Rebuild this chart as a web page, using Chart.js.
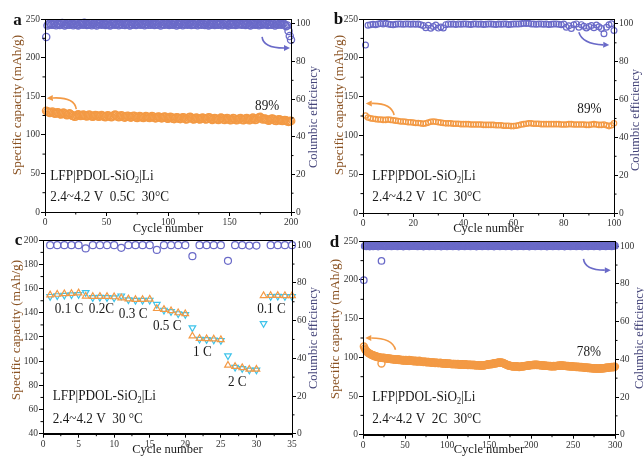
<!DOCTYPE html>
<html><head><meta charset="utf-8">
<script src="https://cdn.jsdelivr.net/npm/chart.js@4.4.1/dist/chart.umd.min.js"></script>
<style>
html,body{margin:0;padding:0;background:#fff;width:644px;height:457px;overflow:hidden;position:relative;}
canvas{position:absolute;}
</style></head><body>
<canvas id="ca" width="322" height="240" style="left:0;top:0"></canvas>
<canvas id="cb" width="322" height="240" style="left:322px;top:0"></canvas>
<canvas id="cc" width="322" height="229" style="left:0;top:228px"></canvas>
<canvas id="cd" width="322" height="229" style="left:322px;top:228px"></canvas>
<script>
// ---------- DATA ----------
const capA = [131,130,129.5,128.5,129,130,128.5,127.5,128,129,
128.5,127,126.5,127.5,128.5,127.5,126,125.5,126.5,127.5,
126.5,125,124.5,123.5,124,125.5,126.5,125.5,124.5,125,
126,125.5,124.5,124,125,126,125,124,123.5,124.5,
125.5,125,124,123.5,124.5,125.5,124.5,123.5,123,124,
125,124.5,123.5,123,124,125,126,125,123.5,123,
124,125,124.5,123,122.5,123.5,124.5,124,123,122.5,
123.5,124.5,124,122.5,122,123,124,123.5,122.5,122,
123,124,123.5,122.5,122,123,124,123.5,122,121.5,
122.5,123.5,123,122,121.5,122.5,123.5,123,121.5,121,
122,123,122.5,121,120.5,121.5,122.5,122,121,120.5,
121.5,122.5,122,120.5,120,121,122.5,123,122,120.5,
120,121,122,121.5,120.5,120,121,122,121.5,120.5,
120,121,122.5,122,120.5,119.5,120.5,121.5,121,120,
119.5,120.5,122,121.5,120,119.5,120.5,121.5,121,119.5,
119,120,121.5,121,119.5,119,120,121,121.5,120,
119,119.5,121,121.5,120.5,119,119.5,121,122,121,
119.5,120,121.5,122.5,123,121.5,120,120.5,121,120,
119,118.5,119.5,120.5,121,120,118.5,118,119,120,
119.5,118.5,118,118.5,119,118.5,117.5,117,117.5,118];
const effA = [93.0,99.2,99.8,100.3,99.5,100.1,99.6,100.4,99.3,99.9,
100.2,99.4,99.8,100.5,99.7,99.1,100.0,99.6,100.3,99.5,
99.9,100.2,99.3,99.8,100.4,99.6,99.2,100.1,99.7,100.3,
99.5,100.6,99.8,99.4,100.0,99.6,100.2,99.3,99.9,100.4,
99.7,99.2,100.1,99.8,100.3,99.5,99.9,100.2,99.4,99.8,
100.3,99.6,99.1,100.0,99.7,100.4,99.5,99.9,100.2,99.3,
99.8,100.1,99.6,100.3,99.4,99.9,100.2,99.7,99.2,100.0,
99.6,100.3,99.8,99.4,100.1,99.7,100.4,99.5,99.9,100.2,
99.3,99.8,100.1,99.6,100.3,99.5,99.9,100.2,99.4,99.7,
100.1,99.6,100.3,99.2,99.8,100.0,99.5,100.2,99.7,99.9,
99.4,100.2,99.8,99.5,100.3,99.7,99.1,100.0,99.6,100.4,
99.8,99.3,100.1,99.7,100.2,99.5,99.9,100.3,99.4,99.8,
100.0,99.6,100.4,99.3,99.9,100.1,99.5,100.2,99.8,99.4,
100.3,99.7,99.2,100.0,99.6,100.2,99.8,99.4,100.1,99.7,
99.5,100.3,99.9,99.3,100.0,99.7,100.4,99.6,99.2,99.9,
100.2,99.5,99.8,100.1,99.4,100.3,99.7,99.9,100.0,99.5,
99.8,100.2,99.4,99.9,100.3,99.6,99.2,100.1,99.7,100.0,
99.5,100.2,99.8,99.3,100.1,99.6,100.4,99.7,99.9,100.2,
99.4,99.8,100.0,99.5,100.3,99.7,99.1,100.2,99.6,99.8,
100.1,99.5,99.9,100.2,99.6,98.8,99.2,96.2,93.6,91.6];

const capB = [125.5,123,122,121.5,121,120.5,120.5,120,120,120.5,
120,119.5,119,118.5,118,118,117.5,117,117,116.5,
116,116,115.5,115,115.5,116.5,117.5,118,117.5,117,
116.5,116,115.5,115.5,115.5,115,115,115,114.5,114.5,
114.5,114.5,114,114,114,114,114,113.5,113.5,113.5,
113.5,113.5,113,113,113,112.5,112.5,112.5,112,112,
112.5,113,114,114.5,115,115.5,115.5,115,115,115,
114.5,114.5,114.5,114.5,114.5,114.5,114.5,114.5,114,114,
114,114.5,114.5,114,114,114,114,114,113.5,113.5,
114,114.5,114,113.5,113.5,114,113,112,113,115.5];
const effB = [88.8,99.3,99.6,99.8,99.6,99.9,100.2,100.0,100.3,99.9,
99.7,99.5,99.8,100.0,99.9,99.8,100.0,99.9,99.8,99.9,
99.8,99.9,99.6,99.2,98.0,99.3,97.7,98.6,99.4,97.8,
98.4,97.9,99.6,100.0,99.8,99.9,99.7,100.0,99.8,99.9,
100.0,99.8,99.7,99.9,100.0,99.8,99.9,99.7,99.8,100.0,
99.9,99.8,99.7,99.9,99.8,100.0,99.9,99.7,99.8,99.9,
100.0,99.9,100.1,100.4,100.2,100.3,100.0,99.9,99.8,99.9,
100.0,99.8,99.9,99.7,99.8,99.9,100.0,99.8,99.6,99.9,
98.2,99.0,97.6,99.5,100.0,98.3,99.6,98.8,97.9,98.6,
99.2,98.0,99.4,98.5,97.6,94.8,98.2,99.5,100.1,96.5];

const dischC = [154.8,155.3,155.8,156,156.5,153.8,153.5,153.6,153.5,153.2,
152.3,151.5,151,151,151.3,143.5,142.8,141.7,140,139.2,
120.8,118.8,118.5,118.3,117.8,96.6,95.6,94.6,93.3,93.3,
154.2,154.3,154.3,154.2,154.2];
const chargeC = [153.6,154.2,154.6,155,155.2,156.8,152.6,152.8,152.6,152.4,
154,150.8,150.3,150.3,150.5,147,142.2,141,139.3,138.6,
127.6,118.2,117.9,117.6,117.2,104.5,95,94,92.7,92.7,
131.2,153.6,153.7,153.6,153.6];
const effC = [100,100,100,100,100,98.3,100,100,100,100,
98.6,100,100,100,100,97.5,100,100,100,100,
94.2,100,100,100,100,91.7,100,100,99.8,99.8,
null,100,100,100,100];
const rateLabelsC = ['0.1 C','0.2C','0.3 C','0.5 C','1 C','2 C','0.1 C'];

const capD = [114,111.5,109.5,108,107,106,105.5,104.5,104,103.5,
103,102.5,102.5,101.5,101.5,101,100.5,100.5,100,100,
99.5,92,99.5,99,99.5,99,98.5,99,98.5,98.5,
98,98.5,98,97.5,98,97.5,97.5,97,97.5,97,
97,97.5,96.5,97,96.5,96.5,96,96.5,96,96,
96.5,96,95.5,96,96.5,96,95.5,96,95.5,95,
95.5,95,95.5,95,94.5,95,95.5,95,94.5,94.5,
94.5,94,94.5,94.5,94,93.5,94,94,93.5,93.5,
93.5,93,93.5,93.5,93,92.5,93,93,92.5,92.5,
92.5,93,92.5,92,92.5,92,92,92.5,92,91.5,
92,91.5,92,91.5,91.5,91,91.5,91.5,91,91.5,
91,91,91.5,91,90.5,91,91,90.5,91,90.5,
90.5,91,90.5,90.5,90,90.5,90.5,90,90.5,90,
90,90.5,90,89.5,90,90,89.5,90,89.5,89.5,
89.5,90,89.5,89.5,90,90,90.5,90.5,91,91,
91,91.5,91,91.5,92,92,92.5,92,92.5,93,
93,93.5,93,93.5,93,93,92.5,92,91.5,91,
90.5,90,89.5,89.5,89,89,88.5,88.5,88,88.5,
88,88,88.5,88,88,87.5,88,88,88,88.5,
88.5,88.5,89,89,89,89.5,89.5,89.5,90,90,
90,90,90.5,90,90.5,90.5,90,90.5,90,90,
90,89.5,90,89.5,89.5,89,89.5,89,89,89,
89,88.5,89,88.5,88.5,88.5,89,88.5,88.5,89,
89,89,89.5,89,89.5,89.5,89.5,89,89.5,89,
89,89,88.5,89,88.5,88.5,88.5,88,88.5,88,
88,88,88,87.5,88,87.5,87.5,87.5,87,87.5,
87,87,87,86.5,87,86.5,86.5,86.5,86,86.5,
86,86,86,85.5,86,85.5,85.5,85.5,85.5,85.5,
85.5,85.5,85.5,86,85.5,86,86,86,86.5,86.5,
86.5,86.5,87,87,87,87.5,87,87.5,87.5,88];
const effD = [82.0,100.1,100.4,99.9,100.5,100.0,100.3,99.8,100.4,100.1,
100.3,99.9,100.2,100.5,100.0,100.2,100.4,99.8,100.3,100.1,
100.4,92.2,100.0,100.3,100.1,100.4,99.9,100.5,100.2,100.0,
100.3,100.1,100.5,99.9,100.2,100.4,100.0,100.3,100.1,100.5,
99.9,100.2,100.4,100.0,100.3,100.1,100.5,99.8,100.2,100.4,
100.0,100.3,100.1,100.5,99.9,100.2,100.4,100.0,100.3,100.1,
100.5,100.0,100.2,100.4,99.9,100.3,100.1,100.5,100.0,100.2,
100.4,99.8,100.3,100.1,100.5,100.0,100.2,100.4,99.9,100.3,
100.1,100.5,100.0,100.2,100.4,99.9,100.3,100.1,100.5,100.0,
100.2,100.4,99.8,100.3,100.1,100.5,100.0,100.2,100.4,99.9,
100.3,100.1,100.5,100.0,100.2,100.4,99.9,100.3,100.1,100.5,
100.0,100.2,100.4,99.8,100.3,100.1,100.5,100.0,100.2,100.4,
99.9,100.3,100.1,100.5,100.0,100.2,100.4,99.9,100.3,100.1,
100.5,100.0,100.2,100.4,99.8,100.3,100.1,100.5,100.0,100.2,
100.4,99.9,100.3,100.1,100.5,100.0,100.2,100.4,99.9,100.3,
100.1,100.5,100.0,100.2,100.4,99.8,100.3,100.1,100.5,100.0,
100.2,100.4,99.9,100.3,100.1,100.5,100.0,100.2,100.4,99.9,
100.3,100.1,100.5,100.0,100.2,100.4,99.8,100.3,100.1,100.5,
100.0,100.2,100.4,99.9,100.3,100.1,100.5,100.0,100.2,100.4,
99.9,100.3,100.1,100.5,100.0,100.2,100.4,99.8,100.3,100.1,
100.5,100.0,100.2,100.4,99.9,100.3,100.1,100.5,100.0,100.2,
100.4,99.9,100.3,100.1,100.5,100.0,100.2,100.4,99.8,100.3,
100.1,100.5,100.0,100.2,100.4,99.9,100.3,100.1,100.5,100.0,
100.2,100.4,99.9,100.3,100.1,100.5,100.0,100.2,100.4,99.8,
100.3,100.1,100.5,100.0,100.2,100.4,99.9,100.3,100.1,100.5,
100.0,100.2,100.4,99.9,100.3,100.1,100.5,100.0,100.2,100.4,
99.8,100.3,100.1,100.5,100.0,100.2,100.4,99.9,100.3,100.1,
100.5,100.0,100.2,100.4,99.9,100.3,100.1,100.5,100.0,100.2,
100.4,99.8,100.3,100.1,100.5,100.0,100.2,100.4,99.9,100.3,
100.1,100.5,100.0,100.2,100.4,99.9,100.3,100.1,100.5,100.2];

// ---------- STYLE ----------
const ORANGE = '#F39A45', BLUE = '#6A6AC8', CYAN = '#3EC3EA';
const FONT = 'Liberation Serif';
const LEFT_TITLE = '#8A5222', RIGHT_TITLE = '#45457A';
const LEFT_TEXT = 'Specific capacity (mAh/g)', RIGHT_TEXT = 'Columbic efficiency';

function pts(arr){ return arr.map((v,i)=>({x:i+1,y:v})); }

const annoPlugin = {
  id:'anno',
  afterDatasetsDraw(chart, args, o){
    const ctx = chart.ctx, ca = chart.chartArea;
    ctx.save();
    ctx.strokeStyle = '#000'; ctx.lineWidth = 1;
    ctx.strokeRect(Math.round(ca.left)+0.5, Math.round(ca.top)+0.5, Math.round(ca.right)-Math.round(ca.left), Math.round(ca.bottom)-Math.round(ca.top));
    // minor ticks
    const minor = (scale, horiz, side) => {
      const t = scale.ticks;
      for(let i=0;i<t.length-1;i++){
        const v = (t[i].value + t[i+1].value)/2;
        const p = scale.getPixelForValue(v);
        ctx.beginPath();
        if(horiz){ ctx.moveTo(p, ca.bottom); ctx.lineTo(p, ca.bottom+2.5); }
        else if(side==='left'){ ctx.moveTo(ca.left, p); ctx.lineTo(ca.left-2.5, p); }
        else { ctx.moveTo(ca.right, p); ctx.lineTo(ca.right+2.5, p); }
        ctx.stroke();
      }
    };
    minor(chart.scales.x, true); minor(chart.scales.y, false, 'left'); minor(chart.scales.y1, false, 'right');
    // axis titles (both read bottom-to-top)
    const vt = (text, x, y, size, color) => {
      ctx.save(); ctx.translate(x, y); ctx.rotate(-Math.PI/2);
      ctx.font = size + 'px "' + FONT + '"'; ctx.fillStyle = color;
      ctx.textAlign = 'center'; ctx.textBaseline = 'middle';
      ctx.fillText(text, 0, 0); ctx.restore();
    };
    vt(LEFT_TEXT, o.lt[0], o.lt[1], 13.3, LEFT_TITLE);
    vt(RIGHT_TEXT, o.rt[0], o.rt[1], 12.5, RIGHT_TITLE);
    // arrows
    (o.arrows||[]).forEach(a=>{
      const ys = chart.scales[a.axis], xs = chart.scales.x;
      const P = a.pts.map(p=>({x:xs.getPixelForValue(p[0]), y:ys.getPixelForValue(p[1])}));
      ctx.strokeStyle = a.color; ctx.fillStyle = a.color; ctx.lineWidth = 1.6;
      const ang = Math.atan2(P[2].y-P[1].y, P[2].x-P[1].x);
      const hl = 6, hw = 3;
      const bx = P[2].x - hl*Math.cos(ang), by = P[2].y - hl*Math.sin(ang);
      ctx.beginPath(); ctx.moveTo(P[0].x,P[0].y); ctx.quadraticCurveTo(P[1].x,P[1].y,bx,by); ctx.stroke();
      ctx.beginPath(); ctx.moveTo(P[2].x,P[2].y);
      ctx.lineTo(bx - hw*Math.sin(ang), by + hw*Math.cos(ang));
      ctx.lineTo(bx + hw*Math.sin(ang), by - hw*Math.cos(ang));
      ctx.closePath(); ctx.fill();
    });
    // texts
    ctx.fillStyle = '#1a1a1a'; ctx.textBaseline = 'alphabetic'; ctx.textAlign = 'left';
    (o.texts||[]).forEach(t=>{
      const x = chart.scales.x.getPixelForValue(t.x), y = chart.scales.y.getPixelForValue(t.y);
      const size = t.size || 15, sx = t.sx || 0.88;
      ctx.save(); ctx.translate(x,y); ctx.scale(sx,1);
      let cx = 0;
      t.parts.forEach(p=>{
        const sub = typeof p === 'object';
        const s = sub ? p.sub : p;
        ctx.font = (sub ? size*0.62 : size) + 'px "' + FONT + '"';
        ctx.fillText(s, cx, sub ? size*0.2 : 0);
        cx += ctx.measureText(s).width;
      });
      ctx.restore();
    });
    // panel letter
    if(o.letter){
      ctx.font = 'bold 17px "' + FONT + '"'; ctx.textAlign='center'; ctx.textBaseline='middle';
      ctx.fillStyle = '#111';
      ctx.fillText(o.letter.t, o.letter.x, o.letter.y);
    }
    ctx.restore();
  }
};

function axis(pos, min, max, step, fitFn, title, tpad){
  return {
    type:'linear', position:pos, min:min, max:max,
    border:{display:true, color:'#000', width:1},
    grid:{display:true, drawOnChartArea:false, drawTicks:true, tickLength:4, color:'#000', lineWidth:1},
    ticks:{stepSize:step, includeBounds:false, color:'#333', font:{family:FONT, size:9.5}, padding:1, maxRotation:0, autoSkip:false},
    title:{display:!!title, text:title||'', color:'#1a1a1a', font:{family:FONT, size:12.5}, padding:tpad||0},
    afterFit: fitFn
  };
}

function makePanel(id, P){
  const W = P.W, H = P.H;
  new Chart(document.getElementById(id), {
    type:'scatter',
    data:{datasets:P.datasets},
    options:{
      responsive:false, animation:false, devicePixelRatio:1,
      layout:{padding:{top:P.top, left:0, right:0, bottom:0}},
      plugins:{legend:{display:false}, tooltip:{enabled:false}, anno:P.anno},
      scales:{
        x: axis('bottom', P.xmin, P.xmax, P.xstep, s=>{s.height = H - P.bottom;}, 'Cycle number', {top:0,bottom:P.xtpad}),
        y: axis('left', P.ymin, P.ymax, P.ystep, s=>{s.width = P.left;}),
        y1: axis('right', 0, 102.6, 20, s=>{s.width = W - P.right;})
      }
    },
    plugins:[annoPlugin]
  });
}

function ds(data, axisId, color, r, bw, style, rot, order){
  return {data:data, yAxisID:axisId, borderColor:color, backgroundColor:'rgba(0,0,0,0)', pointRadius:r, pointBorderWidth:bw,
    pointStyle:style||'circle', rotation:rot||0, showLine:false, clip:false, order:order||0};
}
const LFP = ['LFP|PDOL-SiO', {sub:'2'}, '|Li'];

// Panel a
makePanel('ca', {W:322, H:240, left:45, right:291, top:19, bottom:212,
  xmin:0, xmax:200, xstep:50, ymin:0, ymax:250, ystep:50, xtpad:3.5,
  datasets:[ds(pts(capA),'y',ORANGE,3.8,1.3), ds(pts(effA),'y1',BLUE,3.6,1.3)],
  anno:{letter:{t:'a',x:17.5,y:21}, lt:[17.5,105], rt:[314,117],
    texts:[{parts:LFP,x:4.3,y:41.5},{parts:['2.4~4.2 V  0.5C  30°C'],x:4.3,y:14.2},{parts:['89%'],x:170.8,y:132}],
    arrows:[{axis:'y',color:ORANGE,pts:[[25.4,133.4],[23.8,149],[1.5,147.3]]},
            {axis:'y1',color:BLUE,pts:[[176.5,93.1],[177.3,87.2],[199.2,87.2]]}]}
});
// Panel b
makePanel('cb', {W:322, H:240, left:41, right:292, top:19, bottom:213,
  xmin:0, xmax:100, xstep:20, ymin:0, ymax:250, ystep:50, xtpad:3.5,
  datasets:[ds(pts(capB),'y',ORANGE,2.7,1.2), ds(pts(effB),'y1',BLUE,2.9,1.2)],
  anno:{letter:{t:'b',x:16.5,y:20}, lt:[17.5,105], rt:[314,120],
    texts:[{parts:LFP,x:3.7,y:42.5},{parts:['2.4~4.2 V  1C  30°C'],x:3.7,y:15.5},{parts:['89%'],x:85.4,y:128.9}],
    arrows:[{axis:'y',color:ORANGE,pts:[[12.4,126.3],[11.3,141.8],[1.1,141.1]]},
            {axis:'y1',color:BLUE,pts:[[86,95.6],[87.4,89.4],[98.1,88.8]]}]}
});
// Panel c
makePanel('cc', {W:322, H:229, left:43, right:292, top:12.3, bottom:205.7,
  xmin:0, xmax:35, xstep:5, ymin:40, ymax:200, ystep:20, xtpad:0,
  datasets:[ds(pts(dischC),'y',ORANGE,3.8,1.2,'triangle',0,0),
            ds(pts(chargeC),'y',CYAN,3.8,1.2,'triangle',180,1),
            ds(pts(effC),'y1',BLUE,3.5,1.2,'circle',0,2)],
  anno:{letter:{t:'c',x:18.5,y:12.5}, lt:[16.7,102], rt:[314,110],
    texts:[{parts:LFP,x:1.37,y:68.1},{parts:['2.4~4.2 V  30 °C'],x:1.37,y:48.9},
      {parts:[rateLabelsC[0]],x:1.65,y:139.8},{parts:[rateLabelsC[1]],x:6.44,y:139.8},
      {parts:[rateLabelsC[2]],x:10.66,y:135.7},{parts:[rateLabelsC[3]],x:15.45,y:126},
      {parts:[rateLabelsC[4]],x:21.1,y:104},{parts:[rateLabelsC[5]],x:26.0,y:79.2},
      {parts:[rateLabelsC[6]],x:30.1,y:139.8}],
    arrows:[]}
});
// Panel d
makePanel('cd', {W:322, H:229, left:41, right:293, top:13.3, bottom:206.7,
  xmin:0, xmax:300, xstep:50, ymin:0, ymax:250, ystep:50, xtpad:0,
  datasets:[ds(pts(capD),'y',ORANGE,3.5,1.4), ds(pts(effD),'y1',BLUE,3.2,1.3)],
  anno:{letter:{t:'d',x:12.5,y:15}, lt:[14,101], rt:[318,110],
    texts:[{parts:LFP,x:11,y:43.2},{parts:['2.4~4.2 V  2C  30°C'],x:11,y:15.1},{parts:['78%'],x:254.5,y:101.3}],
    arrows:[{axis:'y',color:ORANGE,pts:[[38.7,109.9],[34.8,125],[2.7,125]]},
            {axis:'y1',color:BLUE,pts:[[262.5,93.3],[264,87.3],[295,87.3]]}]}
});
</script>
</body></html>
